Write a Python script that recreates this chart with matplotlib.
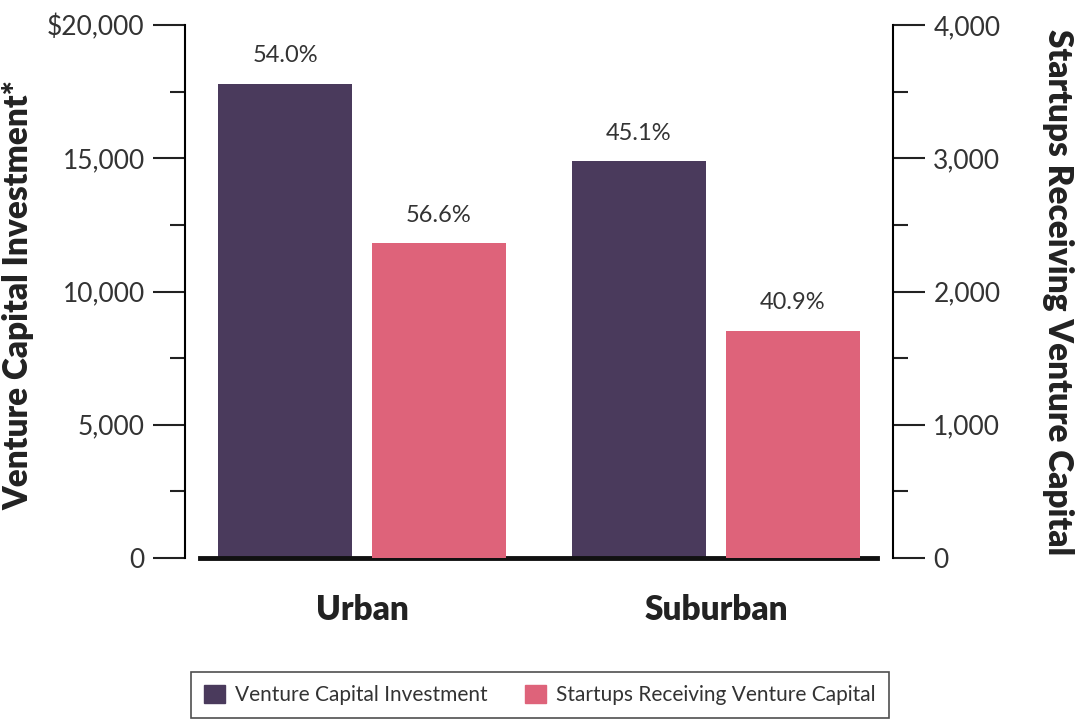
import matplotlib.pyplot as plt
import numpy as np
from matplotlib.patches import Patch
from matplotlib.ticker import FuncFormatter

categories = ["Urban", "Suburban"]
vc_investment = [17800, 14900]
startups = [2365, 1705]
vc_labels = ["54.0%", "45.1%"]
startup_labels = ["56.6%", "40.9%"]

purple = "#4A3A5C"
pink = "#DE637A"
txt = "#222222"

plt.rcParams['font.family'] = ['Lato', 'DejaVu Sans']

fig = plt.figure(figsize=(10.8, 7.19), dpi=100)
ax = fig.add_axes([185 / 1080, 1 - 558 / 719, 708 / 1080, 533 / 719])
ax2 = ax.twinx()

x = np.arange(len(categories))
w = 0.379
off = 0.2175

b1 = ax.bar(x - off, vc_investment, w, color=purple)
b2 = ax2.bar(x + off, startups, w, color=pink)

ax.set_xlim(-0.5, 1.5)
ax.set_ylim(0, 20000)
ax2.set_ylim(0, 4000)

for a in (ax, ax2):
    for s in ("top", "bottom"):
        a.spines[s].set_visible(False)
    a.spines["left"].set_linewidth(1.5)
    a.spines["right"].set_linewidth(1.5)
    a.tick_params(which="major", length=23, width=1.5, color=txt,
                  labelsize=19, labelcolor="#333333", pad=6)
    a.tick_params(which="minor", length=11, width=1.5, color=txt)
ax.spines["right"].set_visible(False)
ax2.spines["left"].set_visible(False)

ax.set_yticks([0, 5000, 10000, 15000, 20000])
ax.set_yticks([2500, 7500, 12500, 17500], minor=True)
ax.yaxis.set_major_formatter(FuncFormatter(
    lambda v, p: f"${v:,.0f}" if v == 20000 else f"{v:,.0f}"))
ax2.set_yticks([0, 1000, 2000, 3000, 4000])
ax2.set_yticks([500, 1500, 2500, 3500], minor=True)
ax2.yaxis.set_major_formatter(FuncFormatter(lambda v, p: f"{v:,.0f}"))

ax.set_xticks(x)
ax.set_xticklabels(categories, fontsize=24, fontweight="heavy", color=txt)
ax.tick_params(axis="x", length=0, pad=26)

ax.axhline(0, xmin=15 / 708, xmax=692 / 708, color="#111111", lw=3.5,
           zorder=5, clip_on=False)

for rect, lab in zip(b1, vc_labels):
    ax.text(rect.get_x() + rect.get_width() / 2, rect.get_height() + 650, lab,
            ha="center", va="bottom", fontsize=17, color="#333333")
for rect, lab in zip(b2, startup_labels):
    ax2.text(rect.get_x() + rect.get_width() / 2, rect.get_height() + 130, lab,
             ha="center", va="bottom", fontsize=17, color="#333333")

fig.text(18 / 1080, 1 - 295 / 719, "Venture Capital Investment*", rotation=90,
         ha="center", va="center", fontsize=24, fontweight="heavy", color=txt)
fig.text(1058 / 1080, 1 - 292 / 719, "Startups Receiving Venture Capital", rotation=-90,
         ha="center", va="center", fontsize=24, fontweight="heavy", color=txt)

handles = [Patch(color=purple, label="Venture Capital Investment"),
           Patch(color=pink, label="Startups Receiving Venture Capital")]
leg = fig.legend(handles=handles, loc="center", bbox_to_anchor=(540 / 1080, 1 - 695 / 719),
                 ncol=2, fontsize=15, frameon=True, fancybox=False, edgecolor=txt,
                 handlelength=1.0, handleheight=1.0, columnspacing=1.8,
                 borderpad=0.6, handletextpad=0.5)
leg.get_frame().set_linewidth(1.2)
for t in leg.get_texts():
    t.set_color("#333333")

fig.savefig("out.png", dpi=100)
